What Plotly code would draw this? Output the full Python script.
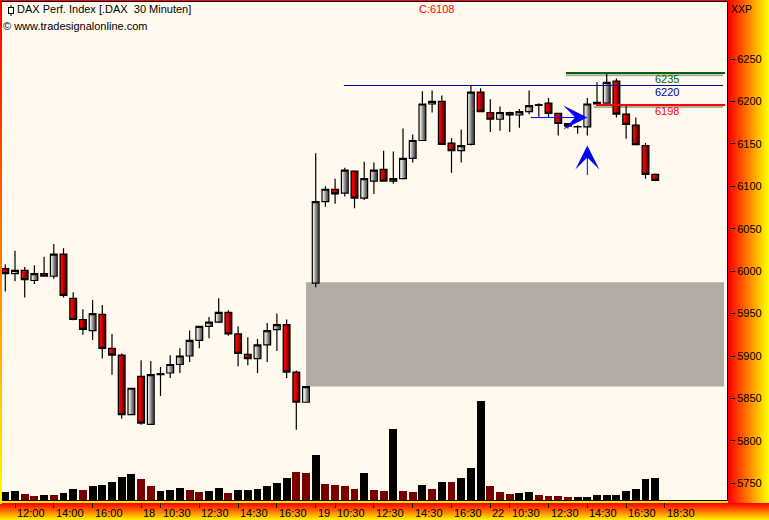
import plotly.graph_objects as go

# ---------- data ----------
opens = [6003,5997,6001,5989,5997,5994,6020,5968,5943,5930,5949,5909,5901,5831,5876,5819.5,5879,5880,5890,5900,
         5918.5,5935,5940,5951.5,5926,5902,5897,5913,5931,5937,5881,5845.5,5986,6082,6096.5,6092,6118,6086,6106,6120,
         6106,6109,6133,6154,6197,6200,6151,6142,6149.5,6211,6187,6179,6187,6184,6188,6196,6198,6186,6174,6170,
         6170,6197,6198,6224,6185,6172,6148,6114]
closes = [5997,6001,5990,5997,5994,6020,5971.5,5943,5931.5,5950,5909,5901,5831,5862,5821,5878,5878,5890,5900,5918.5,
          5935,5940,5951.5,5926,5903,5897,5913,5930,5937,5881,5845.5,5864,6082,6096.5,6091,6119,6086,6109,6119,6106,
          6109,6133,6154,6197,6200,6149.5,6142,6148,6211,6188,6179,6187,6184,6188,6195,6195.5,6186,6174,6171,6170.5,
          6197,6199,6222.5,6185,6173,6149,6114,6107]
highs = [6008,6024,6005,6007,6017,6032,6027,5975,5955,5966,5960,5926,5903,5862,5895,5894,5887,5901,5909,5930,
         5935,5946,5968,5954,5935,5922,5920,5939,5950,5943,5883,5864,6139,6100,6109,6122,6118,6129,6128,6142,
         6141,6168,6161,6212,6213,6207,6157,6167,6219,6215.5,6202.5,6194,6188,6191,6213,6198,6204,6186,6174,6172,
         6204,6222.5,6234,6227,6197,6181,6151,6115]
lows = [5976,5988,5969,5985,5993.5,5991,5969,5942,5925,5919,5897,5878,5826,5831,5819,5819,5853,5874,5880,5893,
        5909,5921,5939,5924,5888,5889,5880,5893,5906,5874,5813,5845.5,5981,6076,6079.5,6088,6074,6084,6091,6106,
        6103,6108,6128,6154,6187,6149.5,6116,6128,6148,6188,6164,6165.5,6164,6169,6185,6182,6181,6160,6168,6162,
        6160,6197,6198,6181,6156,6149,6109,6106]
volumes = [8,9,6,4,5,5,7,11,10,14,15,18,23,26,21,14,9,10,12,10,8,9,12,7,10,10,
           11,14,17,22,28,27,45,16,15,14,11,27,10,9,71,9,8,15,11,18,18,22,32,99,14,8,
           6,7,8,5,4,4,3,3,3,5,5,5,9,11,21,22]
volume_down = [2,3,5,8,14,15,19,20,23,30,31,33,34,35,36,38,39,41,42,44,46,50,51,52,55,56,57,58]
tick_index = [1,5,9,14,16,20,24,28,32,34,38,42,46,50,52,56,60,64,68]
tick_labels = ["12:00","14:00","16:00","18","10:30","12:30","14:30","16:30","19","10:30",
               "12:30","14:30","16:30","22","10:30","12:30","14:30","16:30","18:30"]
price_ticks = [5750,5800,5850,5900,5950,6000,6050,6100,6150,6200,6250]
gap_top, gap_bottom = 5987, 5864
level_high, level_mid, level_low = 6233.5, 6218.8, 6195.8
shadow_high, shadow_low = 6231, 6193.4
signal_bar, arrow_price, up_arrow_price = 60, 6181, 6148

# ---------- page geometry ----------
W, H, L, R, T, B = 769, 520, 2, 727, 2, 500
def px(x): return (x - L) / (R - L)
def py(y): return (B - y) / (B - T)
def rect(x0, y0, x1, y1, color, layer="above"):
    return dict(type="rect", xref="paper", yref="paper", x0=px(x0), x1=px(x1), y0=py(y0), y1=py(y1),
                fillcolor=color, line_width=0, layer=layer)
def ramp(t):
    return f"rgb(255,{round(255 * t)},0)"

shapes = []
# right and bottom gradient panels, left edge
for x in range(728, 769):
    shapes.append(rect(x, 0, x + 1, 503, ramp((x - 728) / 40), "below"))
for y in range(503, 520):
    shapes.append(rect(0, y, 769, y + 1, ramp((y - 503) / 17), "below"))
for y in range(0, 503, 12):
    shapes.append(rect(0, y, 2, y + 12, ramp(y / 503)))
shapes.append(rect(0, 0, 728, 1, "#ff0000"))
shapes.append(rect(2, 501, 728, 503, "#ffe000"))
shapes.append(rect(728, 1, 730, 503, "#ff0000"))
shapes.append(rect(2, 1, 728, 2, "#000000"))
shapes.append(rect(727, 1, 728, 501, "#000000"))
shapes.append(rect(2, 500, 728, 501, "#000000"))
# gap box
shapes.append(dict(type="rect", xref="x", yref="y", x0=31, x1=74.1, y0=gap_bottom, y1=gap_top,
                   fillcolor="#b2aca4", line_width=0, layer="below"))
# levels with shadows
shapes.append(dict(type="line", xref="x", yref="y", x0=57.8, x1=74, y0=shadow_high, y1=shadow_high,
                   line=dict(color="#b2aca4", width=2), layer="below"))
shapes.append(dict(type="line", xref="x", yref="y", x0=60.7, x1=74, y0=shadow_low, y1=shadow_low,
                   line=dict(color="#b2aca4", width=2), layer="below"))
shapes.append(dict(type="line", xref="x", yref="y", x0=57.8, x1=74.2, y0=level_high, y1=level_high,
                   line=dict(color="#006400", width=2), layer="above"))
shapes.append(dict(type="line", xref="x", yref="y", x0=34.9, x1=74, y0=level_mid, y1=level_mid,
                   line=dict(color="#0000a0", width=1), layer="above"))
shapes.append(dict(type="line", xref="x", yref="y", x0=60.9, x1=74.2, y0=level_low, y1=level_low,
                   line=dict(color="#ff0000", width=2), layer="above"))
# legend candle icon
shapes.append(rect(10.5, 5, 11.5, 16, "#000000"))
shapes.append(rect(8, 7, 14, 14, "#000000"))
shapes.append(rect(9, 8, 13, 13, "#fff9ee"))

fig = go.Figure()

# gradient candle bodies (one strip per colour step, drawn under the candlestick outline)
strip_w = 1.0 / 9.7
white_steps = ["#f8f8f8","#e0e0e0","#c0c0c0","#989898","#787878","#5c5c5c"]
red_steps = ["#ff0000","#f40000","#dc0000","#bc0000","#940000","#680000"]
up_x = [i for i in range(len(opens)) if closes[i] >= opens[i]]
dn_x = [i for i in range(len(opens)) if closes[i] < opens[i]]
for k, col in enumerate(white_steps):
    fig.add_bar(x=up_x, base=[opens[i] for i in up_x], y=[closes[i] - opens[i] for i in up_x],
                width=strip_w, offset=(k - 3) * strip_w, marker=dict(color=col, line_width=0),
                showlegend=False, hoverinfo="skip")
for k, col in enumerate(red_steps):
    fig.add_bar(x=dn_x, base=[closes[i] for i in dn_x], y=[opens[i] - closes[i] for i in dn_x],
                width=strip_w, offset=(k - 3) * strip_w, marker=dict(color=col, line_width=0),
                showlegend=False, hoverinfo="skip")

fig.add_candlestick(x=list(range(len(opens))), open=opens, high=highs, low=lows, close=closes,
                    increasing=dict(line=dict(color="#000000", width=1.2), fillcolor="rgba(0,0,0,0)"),
                    decreasing=dict(line=dict(color="#000000", width=1.2), fillcolor="rgba(0,0,0,0)"),
                    whiskerwidth=0, showlegend=False)

fig.add_bar(x=list(range(len(volumes))), y=volumes, yaxis="y2", width=0.82,
            marker=dict(color=["#780000" if i in volume_down else "#000000" for i in range(len(volumes))],
                        line_width=0),
            showlegend=False, hoverinfo="skip")

FONT = "Liberation Sans"
ann = []
def text(x, y, s, color="#000000", anchor="left", size=11):
    ann.append(dict(xref="paper", yref="paper", x=px(x), y=py(y), text=s, showarrow=False,
                    xanchor=anchor, yanchor="middle", font=dict(family=FONT, size=size, color=color),
                    borderpad=0, borderwidth=0))
text(17, 9.5, "DAX Perf. Index [.DAX  30 Minuten]")
text(3, 26, "© www.tradesignalonline.com")
text(419, 9.5, "C:6108", "#ff0000")
text(731, 9.5, "XXP", size=10.5)
text(679, 79, "6235", "#006400", "right")
text(679, 92, "6220", "#0000a0", "right")
text(679, 111, "6198", "#ff0000", "right")
for idx, lab in zip(tick_index, tick_labels):
    ann.append(dict(xref="x", yref="paper", x=idx, y=py(513), text=lab, showarrow=False, xanchor="left",
                    yanchor="middle", xshift=1, font=dict(family=FONT, size=11, color="#000000"),
                    borderpad=0))
# blue signal arrows
ann.append(dict(xref="x", yref="y", x=signal_bar, y=arrow_price, text="", showarrow=True, axref="pixel", ayref="pixel",
                ax=-58, ay=0, arrowhead=3, arrowsize=4, arrowwidth=1, arrowcolor="#0000ff", standoff=0))
ann.append(dict(xref="x", yref="y", x=signal_bar, y=up_arrow_price, text="", showarrow=True, axref="pixel", ayref="pixel",
                ax=0, ay=31, arrowhead=3, arrowsize=4, arrowwidth=1, arrowcolor="#0000ff", standoff=0))

fig.update_layout(
    width=W, height=H, margin=dict(l=L, r=W - R, t=T, b=H - B, pad=0), autosize=False,
    paper_bgcolor="#fff9ee", plot_bgcolor="#fff9ee", barmode="overlay", bargap=0,
    boxgap=0.3, boxgroupgap=0,
    shapes=shapes, annotations=ann,
    font=dict(family=FONT, size=11, color="#000000"),
    xaxis=dict(range=[-0.34, 74.4], tickmode="array", tickvals=tick_index, ticktext=[""] * len(tick_index),
               ticks="outside", ticklen=7, tickwidth=1, tickcolor="#000000", showgrid=False, zeroline=False,
               rangeslider=dict(visible=False), showline=False, fixedrange=True),
    yaxis=dict(range=[5730.3, 6317.2], side="right", tickmode="array", tickvals=price_ticks,
               ticks="outside", ticklen=7, tickwidth=1, tickcolor="#000000", showgrid=False, zeroline=False,
               showline=False, fixedrange=True, tickfont=dict(family=FONT, size=11)),
    yaxis2=dict(range=[0, 498], overlaying="y", visible=False, fixedrange=True),
)
fig.write_html("out.html", config=dict(displayModeBar=False),
               post_script="document.body.style.margin='0';document.documentElement.style.overflow='hidden';")
